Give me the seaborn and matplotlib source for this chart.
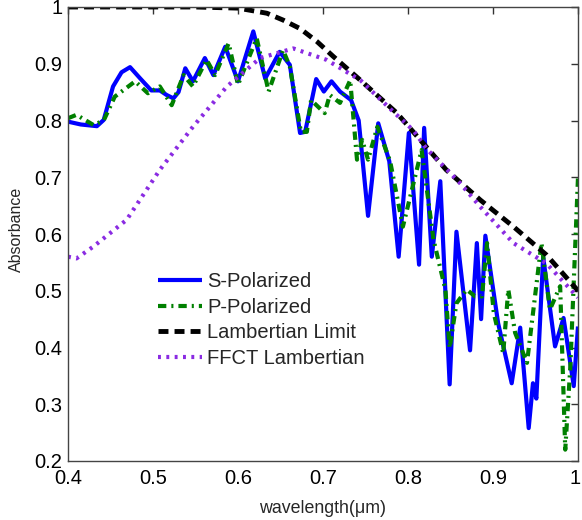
import matplotlib
matplotlib.use("Agg")
import matplotlib.pyplot as plt
import matplotlib.transforms as mtransforms
import seaborn as sns
import pandas as pd
from matplotlib.ticker import FuncFormatter

# ---- data ----
s_x = [0.400, 0.415, 0.434, 0.442, 0.453, 0.463, 0.473, 0.485, 0.498, 0.508, 0.516, 0.524, 0.530,
       0.538, 0.547, 0.561, 0.571, 0.585, 0.600, 0.618, 0.632, 0.649, 0.661, 0.673, 0.679, 0.692,
       0.701, 0.710, 0.720, 0.733, 0.742, 0.753, 0.765, 0.778, 0.789, 0.801, 0.813, 0.819, 0.828,
       0.838, 0.849, 0.857, 0.873, 0.881, 0.886, 0.891, 0.906, 0.922, 0.932, 0.942, 0.947, 0.951,
       0.959, 0.973, 0.983, 0.995, 1.000]
s_y = [0.798, 0.793, 0.790, 0.801, 0.860, 0.885, 0.894, 0.874, 0.853, 0.853, 0.845, 0.839, 0.850,
       0.892, 0.869, 0.910, 0.880, 0.930, 0.869, 0.957, 0.874, 0.921, 0.898, 0.778, 0.780, 0.873,
       0.851, 0.869, 0.851, 0.836, 0.800, 0.632, 0.795, 0.728, 0.560, 0.778, 0.546, 0.787, 0.560,
       0.693, 0.335, 0.604, 0.395, 0.584, 0.450, 0.597, 0.443, 0.337, 0.435, 0.258, 0.337, 0.310,
       0.560, 0.402, 0.452, 0.332, 0.437]

p_x = [0.400, 0.410, 0.430, 0.442, 0.455, 0.479, 0.494, 0.508, 0.522, 0.536, 0.547, 0.563, 0.573,
       0.589, 0.600, 0.622, 0.636, 0.653, 0.661, 0.674, 0.681, 0.686, 0.702, 0.708, 0.720, 0.732,
       0.740, 0.746, 0.753, 0.764, 0.779, 0.794, 0.816, 0.830, 0.844, 0.849, 0.857, 0.869, 0.879,
       0.887, 0.893, 0.901, 0.912, 0.918, 0.926, 0.940, 0.957, 0.967, 0.979, 0.985, 0.991, 1.000]
p_y = [0.804, 0.810, 0.792, 0.800, 0.842, 0.869, 0.848, 0.860, 0.827, 0.880, 0.860, 0.907, 0.880,
       0.936, 0.863, 0.945, 0.851, 0.924, 0.895, 0.780, 0.780, 0.836, 0.813, 0.845, 0.831, 0.871,
       0.731, 0.766, 0.731, 0.789, 0.728, 0.613, 0.748, 0.590, 0.502, 0.399, 0.478, 0.502, 0.490,
       0.490, 0.584, 0.460, 0.390, 0.502, 0.426, 0.373, 0.584, 0.467, 0.508, 0.220, 0.367, 0.700]

l_x = [0.400, 0.550, 0.600, 0.634, 0.653, 0.673, 0.693, 0.712, 0.744, 0.787, 0.845, 0.885, 0.924,
       0.963, 1.000]
l_y = [1.000, 1.000, 0.998, 0.989, 0.977, 0.962, 0.939, 0.913, 0.871, 0.813, 0.713, 0.660, 0.613,
       0.563, 0.500]

f_x = [0.400, 0.410, 0.430, 0.469, 0.508, 0.547, 0.587, 0.626, 0.665, 0.704, 0.744, 0.783, 0.806,
       0.822, 0.861, 0.885, 0.924, 0.963, 1.000]
f_y = [0.560, 0.557, 0.578, 0.625, 0.713, 0.789, 0.860, 0.910, 0.927, 0.907, 0.871, 0.815, 0.783,
       0.750, 0.690, 0.648, 0.584, 0.548, 0.488]

labels = ["S-Polarized", "P-Polarized", "Lambertian Limit", "FFCT Lambertian"]
x_ticks = [0.4, 0.5, 0.6, 0.7, 0.8, 0.9, 1.0]
y_ticks = [0.2, 0.3, 0.4, 0.5, 0.6, 0.7, 0.8, 0.9, 1.0]

sns.set_style("white")
plt.rcParams["font.family"] = ["Liberation Sans", "DejaVu Sans"]

fig = plt.figure(figsize=(5.82, 5.20), dpi=100)
ax = fig.add_axes([68 / 582, 1 - 461 / 520, 510 / 582, 454 / 520])

df_s = pd.DataFrame({"x": s_x, "y": s_y})
df_p = pd.DataFrame({"x": p_x, "y": p_y})
df_l = pd.DataFrame({"x": l_x, "y": l_y})
df_f = pd.DataFrame({"x": f_x, "y": f_y})

sns.lineplot(data=df_s, x="x", y="y", ax=ax, color="#0000FF", lw=3.0, sort=False,
             estimator=None, label=labels[0])
sns.lineplot(data=df_p, x="x", y="y", ax=ax, color="#008000", lw=3.0, sort=False,
             estimator=None, label=labels[1], linestyle=(0, (2.0, 1.2, 0.5, 1.2)))
sns.lineplot(data=df_l, x="x", y="y", ax=ax, color="black", lw=3.5, sort=False,
             estimator=None, label=labels[2], linestyle=(0, (2.05, 1.25)))
sns.lineplot(data=df_f, x="x", y="y", ax=ax, color="#8A2BE2", lw=3.0, sort=False,
             estimator=None, label=labels[3], linestyle=(0, (0.7, 1.3)))

for ln in ax.get_lines():
    ln.set_solid_capstyle("butt")
    ln.set_dash_capstyle("butt")

ax.set_xlim(0.4, 1.0)
ax.set_ylim(0.2, 1.0)
ax.set_xticks(x_ticks)
ax.set_yticks(y_ticks)
fmt = FuncFormatter(lambda v, p: f"{v:g}")
ax.xaxis.set_major_formatter(fmt)
ax.yaxis.set_major_formatter(fmt)
ax.tick_params(direction="in", length=5, width=1, colors="#333333", labelcolor="black",
               labelsize=14.5, top=True, right=True)
ax.tick_params(axis="x", pad=6)
ax.tick_params(axis="y", pad=4)
for sp in ax.spines.values():
    sp.set_visible(True)
    sp.set_color("#444444")
    sp.set_linewidth(1.0)

# keep the last x tick label ("1") inside the canvas
fig.canvas.draw()
last = ax.get_xticklabels()[-1]
last.set_transform(last.get_transform() +
                   mtransforms.ScaledTranslation(-3 / 100, 0, fig.dpi_scale_trans))

ax.set_xlabel("wavelength(\u03bcm)", fontsize=12.8)
ax.set_ylabel("Absorbance", fontsize=11.5)
ax.xaxis.set_label_coords(0.5, -0.085)
ax.yaxis.set_label_coords(-0.086, 0.51)

leg = ax.legend(loc="upper left", bbox_to_anchor=(0.1607, 0.4335), frameon=False, fontsize=14.5,
                handlelength=2.18, handletextpad=0.25, labelspacing=0.32, borderaxespad=0)

fig.savefig("out.png", dpi=100)
